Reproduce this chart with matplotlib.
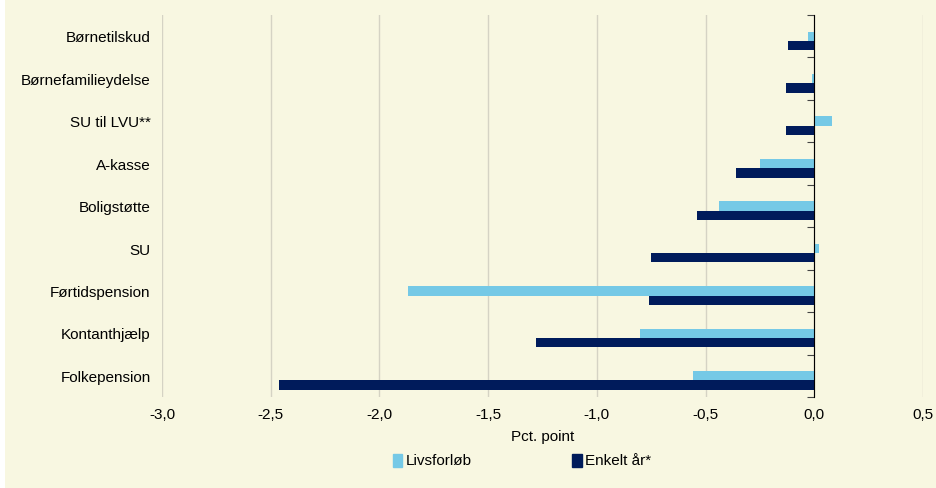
import numpy as np
import matplotlib.pyplot as plt
from matplotlib.patches import Patch, Rectangle
import matplotlib.transforms as mtransforms

plt.rcParams['font.family'] = ['Liberation Sans', 'DejaVu Sans']

categories = ['Børnetilskud', 'Børnefamilieydelse', 'SU til LVU**', 'A-kasse',
              'Boligstøtte', 'SU', 'Førtidspension', 'Kontanthjælp', 'Folkepension']
livsforloeb = [-0.03, -0.01, 0.08, -0.25, -0.44, 0.02, -1.87, -0.80, -0.56]
enkelt_aar = [-0.12, -0.13, -0.13, -0.36, -0.54, -0.75, -0.76, -1.28, -2.46]
xticks = [-3.0, -2.5, -2.0, -1.5, -1.0, -0.5, 0.0, 0.5]

bg = '#F8F7E1'
light = '#75C9E6'
dark = '#001B5B'
fs = 11

fig = plt.figure(figsize=(9.36, 4.88), dpi=100, facecolor='white')
# cream panel, thin white strip at the far left
fig.patches.append(Rectangle((5 / 936, 0), 1, 1, transform=fig.transFigure,
                             facecolor=bg, edgecolor='none', zorder=-10))
ax = fig.add_axes([0.1731, 0.1865, 0.8130, 0.7828], facecolor=bg)

y = np.arange(len(categories))
h = 0.22
ax.barh(y, livsforloeb, height=h, color=light, zorder=3)
ax.barh(y + h, enkelt_aar, height=h, color=dark, zorder=3)

ax.set_xlim(-3.0, 0.5)
ax.set_ylim(len(categories) - 0.5, -0.5)
ax.set_xticks(xticks)
ax.set_xticklabels([f'{v:.1f}'.replace('.', ',') for v in xticks], fontsize=fs)
ax.grid(axis='x', color='#D5D3C4', linewidth=1, zorder=0)

for s in ['top', 'right', 'bottom']:
    ax.spines[s].set_visible(False)
ax.spines['left'].set_position(('data', 0))
ax.spines['left'].set_color('black')
ax.spines['left'].set_zorder(4)
ax.set_yticks(np.arange(len(categories) + 1) - 0.5)
ax.set_yticklabels([])
ax.tick_params(axis='y', direction='out', length=5, color='#444444')
ax.tick_params(axis='x', length=0, pad=8)

trans = mtransforms.blended_transform_factory(ax.transAxes, ax.transData)
for i, c in enumerate(categories):
    ax.text(-0.015, i + 0.05, c, transform=trans, ha='right', va='center',
            fontsize=fs)

ax.set_xlabel('Pct. point', fontsize=fs, labelpad=6)

handles = [Patch(color=light, label='Livsforløb'), Patch(color=dark, label='Enkelt år*')]
fig.legend(handles=handles, loc='center', bbox_to_anchor=(0.5577, 0.055), ncol=2,
           frameon=False, fontsize=fs, handlelength=0.6, handleheight=0.9,
           handletextpad=0.2, columnspacing=6.6)

fig.savefig('out.png', dpi=100, facecolor='white')
